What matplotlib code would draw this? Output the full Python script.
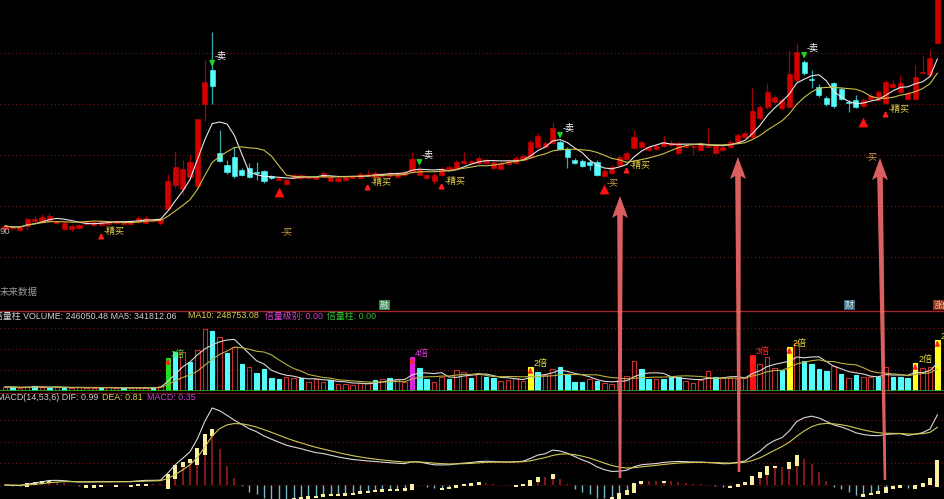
import numpy as np
import pandas as pd
import matplotlib
matplotlib.use('Agg')
import matplotlib.pyplot as plt
from matplotlib.patches import Polygon

plt.rcParams['font.family'] = ['Liberation Sans', 'Noto Sans CJK SC']

# ---- K-line data ----
opens = [6.64, 6.66, 6.62, 6.70, 6.80, 6.78, 6.80, 6.76, 6.64, 6.64,
         6.66, 6.75, 6.72, 6.72, 6.75, 6.76, 6.74, 6.74, 6.78, 6.76,
         6.80, 6.76, 7.04, 7.52, 7.44, 7.68, 7.50, 9.14, 9.82, 8.16,
         7.92, 8.08, 7.82, 7.86, 7.78, 7.80, 7.69, 7.62, 7.54, 7.66,
         7.66, 7.66, 7.65, 7.68, 7.60, 7.60, 7.62, 7.67, 7.66, 7.71,
         7.68, 7.70, 7.70, 7.68, 7.72, 7.78, 7.72, 7.66, 7.60, 7.72,
         7.84, 7.84, 7.97, 7.97, 7.96, 7.96, 7.86, 7.84, 7.94, 7.96,
         8.02, 8.08, 8.28, 8.28, 8.36, 8.38, 8.24, 8.02, 8.00, 7.98,
         7.98, 7.70, 7.76, 7.92, 8.04, 8.26, 8.28, 8.22, 8.24, 8.30,
         8.33, 8.16, 8.28, 8.28, 8.22, 8.28, 8.16, 8.22, 8.28, 8.38,
         8.48, 8.48, 8.86, 9.08, 9.18, 9.06, 9.08, 9.62, 9.98, 9.64,
         9.48, 9.26, 9.56, 9.44, 9.18, 9.22, 9.10, 9.24, 9.22, 9.16,
         9.48, 9.38, 9.24, 9.24, 9.76, 9.72, 10.36]
closes = [6.70, 6.66, 6.68, 6.84, 6.84, 6.88, 6.90, 6.80, 6.76, 6.70,
          6.72, 6.77, 6.78, 6.80, 6.77, 6.80, 6.78, 6.80, 6.86, 6.86,
          6.82, 6.84, 7.60, 7.88, 7.84, 7.98, 8.84, 9.58, 9.50, 8.00,
          7.78, 7.70, 7.72, 7.68, 7.76, 7.60, 7.67, 7.66, 7.62, 7.72,
          7.72, 7.68, 7.67, 7.76, 7.68, 7.66, 7.68, 7.69, 7.74, 7.73,
          7.76, 7.74, 7.76, 7.76, 7.78, 8.04, 7.84, 7.72, 7.72, 7.84,
          7.88, 7.98, 7.99, 7.99, 8.06, 8.02, 7.98, 7.96, 8.00, 8.06,
          8.10, 8.38, 8.50, 8.36, 8.66, 8.24, 8.08, 7.96, 7.90, 7.92,
          7.72, 7.80, 7.88, 8.08, 8.16, 8.48, 8.38, 8.28, 8.30, 8.38,
          8.35, 8.36, 8.30, 8.30, 8.34, 8.30, 8.32, 8.28, 8.38, 8.52,
          8.56, 9.00, 9.08, 9.38, 9.28, 9.22, 9.74, 10.18, 9.76, 9.62,
          9.32, 9.14, 9.10, 9.24, 9.16, 9.08, 9.22, 9.30, 9.38, 9.58,
          9.54, 9.56, 9.36, 9.68, 9.78, 10.06, 11.32]
highs = [6.72, 6.70, 6.70, 6.88, 6.90, 6.94, 6.96, 6.82, 6.80, 6.72,
         6.74, 6.80, 6.80, 6.82, 6.78, 6.82, 6.80, 6.82, 6.90, 6.92,
         6.84, 6.86, 7.74, 8.20, 8.02, 8.12, 8.84, 10.02, 10.58, 8.62,
         8.02, 8.28, 7.86, 7.96, 7.98, 7.82, 7.72, 7.68, 7.64, 7.76,
         7.74, 7.70, 7.68, 7.80, 7.72, 7.70, 7.70, 7.72, 7.78, 7.82,
         7.80, 7.76, 7.80, 7.78, 7.82, 8.18, 7.92, 7.76, 7.76, 7.88,
         7.92, 8.02, 8.18, 8.02, 8.10, 8.06, 8.02, 8.00, 8.04, 8.10,
         8.14, 8.42, 8.56, 8.40, 8.78, 8.42, 8.28, 8.06, 8.04, 8.02,
         8.02, 7.84, 7.92, 8.12, 8.20, 8.62, 8.42, 8.32, 8.34, 8.52,
         8.42, 8.40, 8.34, 8.36, 8.38, 8.68, 8.36, 8.32, 8.42, 8.56,
         8.60, 9.46, 9.12, 9.56, 9.32, 9.26, 10.22, 10.36, 10.02, 9.82,
         9.54, 9.30, 9.58, 9.48, 9.22, 9.32, 9.26, 9.34, 9.42, 9.62,
         9.62, 9.72, 9.40, 9.92, 10.12, 10.22, 11.42]
lows = [6.62, 6.62, 6.60, 6.62, 6.74, 6.76, 6.78, 6.74, 6.62, 6.60,
        6.64, 6.72, 6.70, 6.70, 6.74, 6.74, 6.72, 6.72, 6.76, 6.74,
        6.78, 6.72, 7.02, 7.46, 7.32, 7.62, 7.46, 8.80, 9.14, 7.98,
        7.74, 7.66, 7.70, 7.66, 7.62, 7.56, 7.64, 7.60, 7.52, 7.64,
        7.64, 7.64, 7.64, 7.66, 7.58, 7.58, 7.60, 7.66, 7.64, 7.68,
        7.66, 7.68, 7.68, 7.66, 7.70, 7.76, 7.70, 7.64, 7.54, 7.70,
        7.82, 7.82, 7.94, 7.96, 7.94, 7.94, 7.84, 7.82, 7.92, 7.94,
        8.00, 8.06, 8.26, 8.26, 8.34, 8.22, 7.86, 7.94, 7.88, 7.82,
        7.70, 7.68, 7.74, 7.90, 8.02, 8.24, 8.26, 8.20, 8.22, 8.28,
        8.30, 8.14, 8.26, 8.12, 8.20, 8.26, 8.14, 8.20, 8.26, 8.36,
        8.46, 8.46, 8.82, 9.04, 9.16, 9.02, 9.06, 9.58, 9.72, 9.46,
        9.28, 9.10, 9.06, 9.22, 8.98, 9.06, 9.08, 9.22, 9.20, 9.14,
        9.46, 9.36, 9.22, 9.22, 9.74, 9.70, 10.34]

# volume in thousands
volumes = [20, 20, 15, 20, 25, 20, 15, 20, 15, 15, 20, 15, 15, 15, 20, 15, 15, 15, 15, 15, 20, 25,
           165, 195, 195, 145, 205, 310, 300, 270, 190, 220, 135, 120, 90, 110, 65, 60, 70, 65, 65, 45, 60,
           45, 55, 35, 35, 30, 40, 40, 55, 60, 65, 60, 45,
           170, 115, 60, 45, 70, 60, 105, 95, 65, 90, 70, 65, 50, 55, 65, 50, 120, 95, 80, 110, 120, 85,
           45, 45, 60, 50, 40, 35,
           55, 75, 150, 110, 60, 60, 60, 70, 70, 50, 40, 55, 100, 70, 65, 65, 60, 65,
           180, 135, 170, 115, 105, 220, 240, 150, 135, 110, 100, 125, 85, 65, 80, 70, 70, 70, 120, 70,
           70, 65, 140, 115, 120, 255]
# r hollow red, c cyan, g green, m magenta, y yellow, R solid red
vol_kind = ('rcrrcrcrcrrrrcrrcrrrcr'
            'gcrcrrcrcrcrccccrrcrr'
            'rcrrrrrcrcrr'
            'mccrrcrrcrccrrrrycrrccccrcrr'
            'rrrccrcccrrrrcrrrr'
            'Rrrrcyrccccrcrcrrcrcccyrry')
vol_tags = {22: ('3倍', '#40e040'), 55: ('4倍', '#e040e0'), 71: ('2倍', '#e8e040'),
            101: ('3倍', '#ff3030'), 106: ('2倍', '#e8e040'), 123: ('2倍', '#e8e040'),
            126: ('2倍', '#e8e040')}

sell_idx = [28, 56, 75, 108]
buy_idx = [13, 49, 59, 84, 119]
tri_idx = [37, 81, 116]
tri_price = [7.38, 7.44, 8.78]
mai_price = [6.58, 7.56, 8.08]
main_grid = [10.16, 9.14, 8.12, 7.10, 6.08]
vol_grid = [315, 210, 105]

o = np.array(opens); c = np.array(closes)
hi = np.array(highs); lo = np.array(lows)
v = np.array(volumes, dtype=float)
n = len(c)
x = np.arange(n)

W, H = 945, 499
fig = plt.figure(figsize=(9.45, 4.99), dpi=100, facecolor='black')


def fx(px):
    return px / W


def fy(py):
    return 1 - py / H


def panel(top, bottom):
    ax = fig.add_axes([0, fy(bottom), 1, (bottom - top) / H])
    ax.set_facecolor('black')
    ax.set_xlim(-0.676, 127.03)
    ax.axis('off')
    return ax


ax1 = panel(0, 311)
ax1.set_ylim(5.00, 11.22)
ax2 = panel(311, 391)
ax2.set_ylim(0, 400)
ax3 = panel(391, 499)

grid_kw = dict(color='#7a1414', lw=0.8, ls=(0, (1, 2.5)))
for g in main_grid:
    ax1.axhline(g, **grid_kw)
for g in vol_grid:
    ax2.axhline(g, **grid_kw)

# ---- candles ----
RED, CYAN = '#d40000', '#54fcfc'
up = c >= o
body_col = np.where(up, RED, CYAN)
wick_col = np.where(up, '#a00000', '#3aa8b0')
ax1.vlines(x, lo, hi, colors=wick_col, lw=0.9, zorder=2)
ax1.bar(x, np.maximum(np.abs(c - o), 0.025), bottom=np.minimum(o, c), width=0.68,
        color=body_col, edgecolor=body_col, lw=0.4, zorder=3)

cs = pd.Series(c)
ax1.plot(x, cs.rolling(5, min_periods=1).mean(), color='#e6e6e6', lw=0.8, zorder=4)
ax1.plot(x, cs.rolling(10, min_periods=1).mean(), color='#c8c048', lw=0.8, zorder=4)

# sell signals
for i in sell_idx:
    tip = max(o[i], c[i]) + 0.01
    ax1.annotate('', xy=(i, tip), xytext=(i, tip + 0.2),
                 arrowprops=dict(arrowstyle='-|>', color='#20d020', lw=1.3, mutation_scale=7), zorder=6)
    ax1.text(i + 0.3, tip + 0.26, '-卖', color='white', fontsize=6.5, va='center', ha='left', zorder=6)

# buy signals
for i in buy_idx:
    tip = lo[i] - 0.08
    ax1.annotate('', xy=(i, tip), xytext=(i, tip - 0.2),
                 arrowprops=dict(arrowstyle='-|>', color='#ff2020', lw=1.3, mutation_scale=7), zorder=6)
    ax1.text(i + 0.35, tip - 0.02, '-精买', color='#e8d048', fontsize=6.5, va='center', ha='left', zorder=6)

ax1.scatter(tri_idx, tri_price, marker='^', s=50, color='#ff1010', zorder=6, linewidths=0)
for i, p in zip(tri_idx, mai_price):
    ax1.text(i + 0.3, p, '-买', color='#d8a048', fontsize=6.5, va='center', ha='left', zorder=6)

# ---- volume ----
kind_face = {'r': 'none', 'c': CYAN, 'g': '#20e020', 'm': '#e020e0', 'y': '#ffff20', 'R': '#ff1010'}
kind_edge = {'r': '#c83030', 'c': CYAN, 'g': '#20e020', 'm': '#e020e0', 'y': '#ffff20', 'R': '#ff1010'}
for i in range(n):
    k = vol_kind[i]
    ax2.bar(i, v[i], width=0.62, facecolor=kind_face[k], edgecolor=kind_edge[k], lw=0.8, zorder=3)
vs = pd.Series(v)
ax2.plot(x, vs.rolling(5, min_periods=1).mean(), color='#d8d8d8', lw=0.8, zorder=4)
ax2.plot(x, vs.rolling(10, min_periods=1).mean(), color='#b8b040', lw=0.8, zorder=4)
for i, (t, col) in vol_tags.items():
    ax2.annotate('', xy=(i, v[i] + 10), xytext=(i, v[i] - 30),
                 arrowprops=dict(arrowstyle='-|>', color='#ff2020', lw=1.2, mutation_scale=6), zorder=5)
    ax2.text(i + 0.4, v[i] + 18, t, color=col, fontsize=6.5, va='center', ha='left', zorder=5)
ax2.axhline(0, color='#20b020', lw=1.2, zorder=5)

# ---- MACD ----
ema_s = cs.ewm(span=14, adjust=False).mean()
ema_l = cs.ewm(span=53, adjust=False).mean()
dif = ema_s - ema_l
dea = dif.ewm(span=6, adjust=False).mean()
macd = 2 * (dif - dea)
s = 77 / dif.max()
ax3.set_ylim(-14 / s, 94 / s)
for g in [65, 43, 22]:
    ax3.axhline(g / s, **grid_kw)
ax3.axhline(0, color='#6a1010', lw=0.8, ls=(0, (1, 2)))
mv = macd.values
ax3.vlines(x[mv > 0], 0, mv[mv > 0], colors='#a82020', lw=1.1, zorder=2)
ax3.vlines(x[mv <= 0], 0, mv[mv <= 0], colors='#78b8c8', lw=1.0, zorder=2)
for i in range(1, n):
    if mv[i] > mv[i - 1]:
        lo_b = mv[i - 1] - 0.5 * (mv[i] - mv[i - 1])
        ax3.bar(i, max(mv[i] - lo_b, 2.5 / s), bottom=min(lo_b, mv[i] - 2.5 / s), width=0.55,
                color='#f8f0a0', zorder=3)
ax3.plot(x, dif, color='#d8d8d8', lw=0.8, zorder=4)
ax3.plot(x, dea, color='#d0c850', lw=0.8, zorder=4)

# separators
fig.add_artist(plt.Line2D([0, 1], [fy(311), fy(311)], color='#a02828', lw=1.0))
fig.add_artist(plt.Line2D([0, 1], [fy(393), fy(393)], color='#701818', lw=0.8))


# ---- titles / labels ----
def ftext(px, py, t, col, **kw):
    fig.text(fx(px), fy(py), t, color=col, fontsize=kw.pop('fontsize', 6.4), va='center', ha='left', **kw)


ftext(-6, 316, '倍量柱 VOLUME: 246050.48 MA5: 341812.06', '#d0d0d0')
ftext(188, 316, 'MA10: 248753.08', '#e0d050')
ftext(265, 316, '倍量级别: 0.00', '#d040d0')
ftext(327, 316, '倍量柱: 0.00', '#30c030')
ftext(-3, 397, 'MACD(14,53,6) DIF: 0.99', '#d0d0d0')
ftext(102, 397, 'DEA: 0.81', '#e0d050')
ftext(147, 397, 'MACD: 0.35', '#d040d0')
ftext(0, 293, '未来数据', '#9a9a9a', fontsize=6.8)
ftext(0, 232, '90', '#b0b0b0', fontsize=6.8)
ftext(380, 305, '融', '#e8e8e8', fontsize=6.5, bbox=dict(boxstyle='square,pad=0.1', fc='#2a8a4a', ec='none'))
ftext(845, 305, '财', '#e8e8e8', fontsize=6.5, bbox=dict(boxstyle='square,pad=0.1', fc='#356a85', ec='none'))
ftext(934, 305, '涨停', '#f0d0a0', fontsize=6.5, bbox=dict(boxstyle='square,pad=0.1', fc='#902818', ec='none'))


# ---- big pink arrows ----
def big_arrow(xb, yb, xt, yt):
    pts = [(xt, yt), (xt + 8, yt + 22), (xt + 2.8, yt + 19), (xb + 1.3, yb),
           (xb - 1.3, yb), (xt - 2.8, yt + 19), (xt - 8, yt + 22)]
    fig.add_artist(Polygon([(fx(a), fy(b)) for a, b in pts], closed=True,
                           transform=fig.transFigure, fc='#f06868', ec='none', alpha=0.92, zorder=10))


big_arrow(620, 478, 620, 196)
big_arrow(739, 472, 738, 157)
big_arrow(885, 480, 880, 158)

fig.savefig('out.png', dpi=100, facecolor='black')
